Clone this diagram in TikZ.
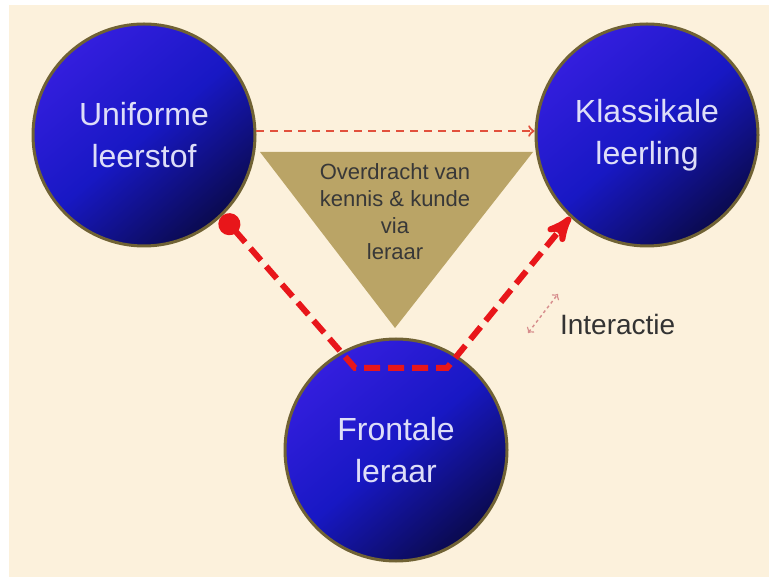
\documentclass[tikz,border=0pt]{standalone}
\usepackage{fontspec}
\setmainfont{Liberation Sans}
\usetikzlibrary{arrows,arrows.meta}

\definecolor{paper}{RGB}{252,241,220}
\definecolor{ballhi}{RGB}{52,30,222}
\definecolor{ballmid}{RGB}{24,24,196}
\definecolor{balllo}{RGB}{10,10,78}
\definecolor{rim}{RGB}{112,98,52}
\definecolor{gold}{RGB}{186,164,102}
\definecolor{linkred}{RGB}{232,22,26}
\definecolor{palered}{RGB}{226,80,60}
\definecolor{pinkred}{RGB}{214,140,140}
\definecolor{balltext}{RGB}{222,222,248}

\begin{document}
\begin{tikzpicture}[x=0.5pt,y=0.5pt,>=stealth',
  ball/.style={circle,minimum size=111pt,inner sep=0pt,draw=rim,line width=1.5pt,
    top color=ballhi,bottom color=balllo,middle color=ballmid,shading angle=40,
    text=balltext,align=center,font=\fontsize{16}{21}\selectfont},
  thick link/.style={draw=linkred,line width=3pt,dash pattern=on 8pt off 4pt},
  thin link/.style={draw=palered,line width=1.1pt,dash pattern=on 4pt off 3pt},
  tiny link/.style={draw=pinkred,line width=0.7pt,dash pattern=on 1.5pt off 1.5pt}]

  % paper
  \useasboundingbox (0,0) rectangle (769,577);
  \fill[paper] (9,0) rectangle (769,572);

  % middle triangle
  \fill[gold] (260,425) -- (533,425) -- (395,249) -- cycle;
  \node[align=center,text=black!78,font=\fontsize{11}{13.3}\selectfont] (overdracht) at (395,365)
    {Overdracht van\\kennis \& kunde\\via\\leraar};

  \node[ball] (stof) at (144,442) {Uniforme\\leerstof};
  \node[ball] (leerling) at (647,442) {Klassikale\\leerling};
  \node[ball] (leraar) at (396,127) {Frontale\\leraar};

  \coordinate (k1) at (355,209);
  \coordinate (k2) at (447,209);
  \coordinate (i1) at (528,244);
  \coordinate (i2) at (558,283);

  \node[anchor=west,text=black!80,font=\fontsize{14}{16}\selectfont] (interactie) at (553,253) {Interactie};

  \draw[thin link,->,>=to] (stof.2) -- (leerling.178);
  \draw[thick link,{Circle[length=11pt]}-stealth'] (stof.-46) -- (k1) -- (k2) -- (leerling.-133);
  \draw[tiny link,<->,>=to] (i1) -- (i2);
\end{tikzpicture}
\end{document}
